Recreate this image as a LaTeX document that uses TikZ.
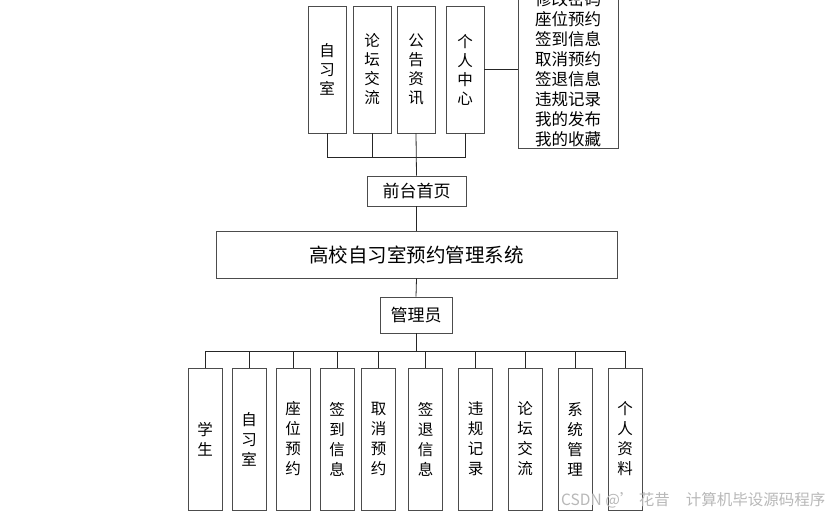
\documentclass[tikz,border=0pt]{standalone}
\usepackage{fontspec}
\setmainfont{Noto Sans CJK SC}
\begin{document}
\begin{tikzpicture}[x=1pt,y=-1pt,
  box/.style={draw=black!70, line width=0.9pt, fill=white, inner sep=0pt, align=center},
  topbox/.style={box, minimum width=38pt, minimum height=127pt, font=\fontsize{15.5}{19}\selectfont},
  botbox/.style={box, minimum width=34pt, minimum height=142pt, font=\fontsize{15.5}{20}\selectfont},
  conn/.style={draw=black!85, line width=0.8pt}]
\useasboundingbox (0,0) rectangle (827,517);
% top row
\node[topbox] (t1) at (327,69.5) {自\\习\\室};
\node[topbox] (t2) at (372,69.5) {论\\坛\\交\\流};
\node[topbox] (t3) at (416,69.5) {公\\告\\资\\讯};
\node[topbox] (t4) at (465,69.5) {个\\人\\中\\心};
\node[box, minimum width=100pt, minimum height=158pt, font=\fontsize{16.5}{20}\selectfont] (rb) at (568,69)
  {修改密码\\座位预约\\签到信息\\取消预约\\签退信息\\违规记录\\我的发布\\我的收藏};
\coordinate (tbus) at (0,157);
\draw[conn] (t1.south) -- (t1.south |- tbus) -- (t4.south |- tbus) -- (t4.south);
\draw[conn] (t2.south) -- (t2.south |- tbus);
\draw[conn] (t4.east) -- (t4.east -| rb.west);
% middle
\node[box, minimum width=99pt, minimum height=30pt, font=\fontsize{17}{20}\selectfont] (front) at (416.5,191) {前台首页};
\node[box, minimum width=401pt, minimum height=47pt, font=\fontsize{19.5}{22}\selectfont] (main) at (416.5,254.5) {高校自习室预约管理系统};
\node[box, minimum width=72pt, minimum height=36pt, font=\fontsize{17}{20}\selectfont] (admin) at (416,315) {管理员};
\draw[conn] (t3.south) -- (front.north);
\draw[conn] (front.south) -- (main.north);
\draw[conn] (main.south) -- (admin.north);
% bottom row
\node[botbox] (b1) at (205,439) {学\\生};
\node[botbox] (b2) at (249,439) {自\\习\\室};
\node[botbox] (b3) at (293,439) {座\\位\\预\\约};
\node[botbox] (b4) at (337,439) {签\\到\\信\\息};
\node[botbox] (b5) at (378.5,439) {取\\消\\预\\约};
\node[botbox] (b6) at (425.5,439) {签\\退\\信\\息};
\node[botbox] (b7) at (475.5,439) {违\\规\\记\\录};
\node[botbox] (b8) at (525,439) {论\\坛\\交\\流};
\node[botbox] (b9) at (575,439) {系\\统\\管\\理};
\node[botbox] (b10) at (625,439) {个\\人\\资\\料};
\coordinate (bbus) at (0,351);
\draw[conn] (admin.south) -- (admin.south |- bbus);
\draw[conn] (b1.north) -- (b1.north |- bbus) -- (b10.north |- bbus) -- (b10.north);
\foreach \i in {2,...,9} { \draw[conn] (b\i.north) -- (b\i.north |- bbus); }
% watermark
\node[text=black!28, font=\fontsize{15.5}{18}\selectfont, anchor=west, inner sep=0pt] (wm) at (561,500) {CSDN @’ 花昔\hspace{16pt}计算机毕设源码程序};
\end{tikzpicture}
\end{document}
